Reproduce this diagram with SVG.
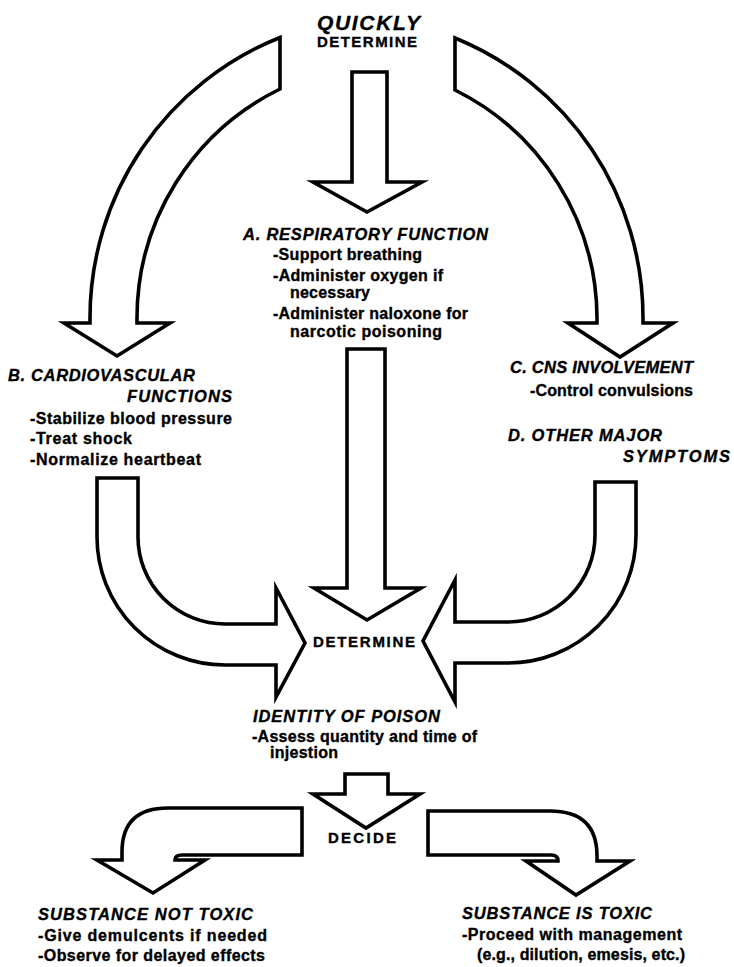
<svg xmlns="http://www.w3.org/2000/svg" width="734" height="967" viewBox="0 0 734 967">
<style>
.arw { fill: #fff; stroke: #000; stroke-width: 3.6; stroke-linejoin: miter; stroke-miterlimit: 10; }
text { font-family: "Liberation Sans", Arial, Helvetica, sans-serif; font-weight: bold; fill: #000; stroke: #000; stroke-width: 0.35; }
.h { font-style: italic; font-size: 16.5px; }
.b { font-size: 16px; }
.k { font-size: 15px; }
.q { font-style: italic; font-size: 21px; }
</style>
<rect x="0" y="0" width="734" height="967" fill="#fff"/>

<g id="connectors">
  <path class="arw" d="M 280 37.5 A 302 302 0 0 0 90 318 L 90 323 L 64 323 L 117 356 L 170 323 L 137 323 L 137 318 A 255 255 0 0 1 280 89 Z"/>
  <path class="arw" d="M 455 38 A 302 302 0 0 1 643 318 L 643 323 L 673 323 L 620 357 L 568 323 L 597 323 L 597 318 A 256 256 0 0 0 455 90 Z"/>
  <path class="arw" d="M 352 72 L 387 72 L 387 182 L 422 182 L 367 212 L 313 182 L 352 182 Z"/>
  <path class="arw" d="M 347 349 L 385 349 L 385 588 L 421 588 L 367 620 L 314 588 L 347 588 Z"/>
  <path class="arw" d="M 97 478 L 138 478 L 138 537 A 87 87 0 0 0 225 624 L 276 624 L 276 588 L 305 643 L 276 697 L 276 665 L 225 665 A 128 128 0 0 1 97 537 Z"/>
  <path class="arw" d="M 595 482 L 636 482 L 636 535 A 128 128 0 0 1 508 663 L 455 663 L 455 702 L 423 641 L 455 580 L 455 622 L 508 622 A 87 87 0 0 0 595 535 Z"/>
  <path class="arw" d="M 345 774 L 388 774 L 388 794 L 420 794 L 366 828 L 313 794 L 345 794 Z"/>
  <path class="arw" d="M 302 808 L 168 808 Q 122 808 122 852 L 122 860 L 97 860 L 153 893 L 205 860 L 175 860 Q 175 855 182 855 L 302 855 Z"/>
  <path class="arw" d="M 428 811 L 550 811 Q 597 811 597 856 L 597 861 L 630 861 L 576 895 L 526 861 L 558 861 Q 558 855 551 855 L 428 855 Z"/>
</g>

<g id="start">
  <text class="q" x="317" y="30" textLength="103">QUICKLY</text>
  <text class="k" x="317" y="47" textLength="100">DETERMINE</text>
</g>

<g id="respiratory">
  <text class="h" x="243" y="240" textLength="245">A. RESPIRATORY FUNCTION</text>
  <text class="b" x="273" y="260" textLength="149">-Support breathing</text>
  <text class="b" x="273" y="281" textLength="170">-Administer oxygen if</text>
  <text class="b" x="290" y="298" textLength="80">necessary</text>
  <text class="b" x="273" y="319" textLength="195">-Administer naloxone for</text>
  <text class="b" x="290" y="337" textLength="152">narcotic poisoning</text>
</g>

<g id="cardiovascular">
  <text class="h" x="8" y="381" textLength="187">B. CARDIOVASCULAR</text>
  <text class="h" x="127" y="402" textLength="105">FUNCTIONS</text>
  <text class="b" x="30" y="424" textLength="202">-Stabilize blood pressure</text>
  <text class="b" x="30" y="444" textLength="102">-Treat shock</text>
  <text class="b" x="30" y="465" textLength="171">-Normalize heartbeat</text>
</g>

<g id="cns">
  <text class="h" x="510" y="373" textLength="183">C. CNS INVOLVEMENT</text>
  <text class="b" x="530" y="396" textLength="163">-Control convulsions</text>
</g>

<g id="other">
  <text class="h" x="508" y="441" textLength="154">D. OTHER MAJOR</text>
  <text class="h" x="623" y="462" textLength="107">SYMPTOMS</text>
</g>

<g id="determine">
  <text class="k" x="313" y="647" textLength="102">DETERMINE</text>
</g>

<g id="identity">
  <text class="h" x="253" y="722" textLength="187">IDENTITY OF POISON</text>
  <text class="b" x="252" y="742" textLength="225">-Assess quantity and time of</text>
  <text class="b" x="270" y="758" textLength="68">injestion</text>
</g>

<g id="decide">
  <text class="k" x="328" y="843" textLength="68">DECIDE</text>
</g>

<g id="not-toxic">
  <text class="h" x="38" y="920" textLength="215">SUBSTANCE NOT TOXIC</text>
  <text class="b" x="38" y="941" textLength="229">-Give demulcents if needed</text>
  <text class="b" x="38" y="961" textLength="227">-Observe for delayed effects</text>
</g>

<g id="toxic">
  <text class="h" x="462" y="919" textLength="190">SUBSTANCE IS TOXIC</text>
  <text class="b" x="462" y="940" textLength="220">-Proceed with management</text>
  <text class="b" x="477" y="960" textLength="208">(e.g., dilution, emesis, etc.)</text>
</g>
</svg>
